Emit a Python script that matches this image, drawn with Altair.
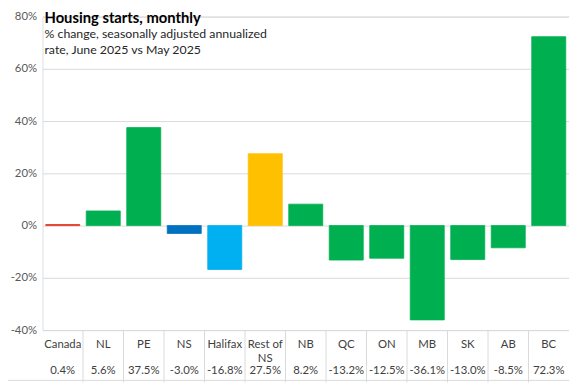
import altair as alt
import pandas as pd

categories = ["Canada", "NL", "PE", "NS", "Halifax", "Rest of\nNS", "NB",
              "QC", "ON", "MB", "SK", "AB", "BC"]
values = [0.4, 5.6, 37.5, -3.0, -16.8, 27.5, 8.2, -13.2, -12.5, -36.1, -13.0, -8.5, 72.3]
colors = ["#E0301E", "#00B050", "#00B050", "#0070C0", "#00B0F0", "#FFC000", "#00B050",
          "#00B050", "#00B050", "#00B050", "#00B050", "#00B050", "#00B050"]
y_ticks = [-40, -20, 0, 20, 40, 60, 80]
title_text = "Housing starts, monthly"
subtitle_text = "% change, seasonally adjusted annualized\nrate, June 2025 vs May 2025"

FONT = "Lato"
PAD_L, PAD_T = 35, 6
W, H = 569 - PAD_L, 318

df = pd.DataFrame({"cat": categories, "val": values, "color": colors})

x = alt.X("cat:N", sort=categories, axis=None,
          scale=alt.Scale(paddingInner=0, paddingOuter=0))

base = alt.Chart(df)

bars = base.mark_bar(width={"band": 0.84}, strokeWidth=0.8).encode(
    x=x,
    y=alt.Y("val:Q",
            scale=alt.Scale(domain=[-40, 80], nice=False, zero=False),
            axis=alt.Axis(values=y_ticks, title=None, domain=False, ticks=False,
                          labelExpr="datum.value + '%'", labelPadding=6,
                          labelFontSize=11.5, labelColor="#595959", labelFont=FONT,
                          gridColor="#D9D9D9", gridWidth=1)),
    y2=alt.datum(0),
    color=alt.Color("color:N", scale=None),
    stroke=alt.Stroke("color:N", scale=None),
)

cat_labels = base.mark_text(font=FONT, fontSize=11.5, color="#404040",
                            lineBreak="\n", lineHeight=14.5, baseline="middle").encode(
    x=x, y=alt.value(333), text="cat:N")

val_labels = base.transform_calculate(
    label="(datum.val < 0 ? '-' : '') + format(abs(datum.val), '.1f') + '%'"
).mark_text(font=FONT, fontSize=11.5, color="#404040", baseline="middle").encode(
    x=x, y=alt.value(360), text="label:N")

seps = alt.Chart(df.iloc[1:]).mark_rule(color="#D9D9D9", strokeWidth=1).encode(
    x=alt.X("cat:N", sort=categories, axis=None, bandPosition=0,
            scale=alt.Scale(paddingInner=0, paddingOuter=0)),
    y=alt.value(H), y2=alt.value(371))

bottom_line = alt.Chart(df.iloc[:1]).mark_rule(color="#D9D9D9").encode(
    x=alt.value(-PAD_L), x2=alt.value(W), y=alt.value(369))

title = alt.Chart(pd.DataFrame({"t": [title_text]})).mark_text(
    font=FONT, fontSize=15, fontWeight="bold", color="#000000", align="left",
    baseline="alphabetic").encode(x=alt.value(2), y=alt.value(7), text="t:N")

subtitle = alt.Chart(pd.DataFrame({"t": [subtitle_text]})).mark_text(
    font=FONT, fontSize=12.5, color="#262626", align="left", baseline="alphabetic",
    lineBreak="\n", lineHeight=16).encode(x=alt.value(2), y=alt.value(22), text="t:N")

chart = alt.layer(bars, seps, bottom_line, cat_labels, val_labels, title, subtitle).properties(
    width=W, height=H,
    autosize=alt.AutoSizeParams(type="none"),
    padding={"left": PAD_L, "top": PAD_T, "right": 0, "bottom": 53},
).configure_view(stroke=None).configure(background="white")

chart.save("out.html", embed_options={"renderer": "svg", "actions": False})
